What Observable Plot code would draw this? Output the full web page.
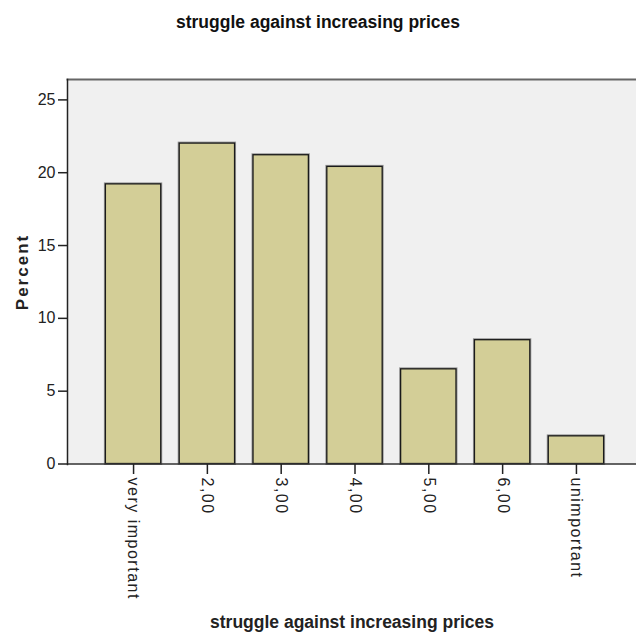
<!DOCTYPE html>
<html>
<head>
<meta charset="utf-8">
<script src="https://cdn.jsdelivr.net/npm/d3@7"></script>
<script src="https://cdn.jsdelivr.net/npm/@observablehq/plot@0.6"></script>
<style>
  html, body { margin: 0; padding: 0; background: #fff; overflow: hidden; }
  #wrap { position: relative; width: 636px; height: 637px; }
  #title { position: absolute; left: 0; top: 12px; width: 636px; text-align: center;
           font: bold 17.5px "Liberation Sans", Arial, sans-serif; line-height: 20px; color: #111; }
  #chart { position: absolute; left: 0; top: 0; }
</style>
</head>
<body>
<div id="wrap">
  <div id="chart"></div>
  <div id="title">struggle against increasing prices</div>
</div>
<script>
const categories = ["very important", "2,00", "3,00", "4,00", "5,00", "6,00", "unimportant"];
const percents = [19.2, 22.0, 21.2, 20.4, 6.5, 8.5, 1.9];
const yTicks = [0, 5, 10, 15, 20, 25];
const xTitle = "struggle against increasing prices";
const yTitle = "Percent";

const data = categories.map((c, i) => ({category: c, percent: percents[i]}));

const chart = Plot.plot({
  width: 636,
  height: 637,
  marginTop: 79,
  marginLeft: 67,
  marginRight: 0,
  marginBottom: 173,
  style: {fontFamily: "'Liberation Sans', Arial, sans-serif", fontSize: "16px", color: "#222", background: "transparent", overflow: "hidden"},
  x: {domain: categories, range: [67, 642], paddingInner: 0.25, paddingOuter: 0.52, round: false},
  y: {domain: [0, 26.4], range: [463.5, 79]},
  marks: [
    Plot.frame({fill: "#f0f0f0", stroke: null}),
    Plot.frame({anchor: "top", stroke: "#666", strokeWidth: 2}),
    Plot.barY(data, {x: "category", y: "percent", fill: "none", stroke: "#999", strokeWidth: 3}),
    Plot.barY(data, {x: "category", y: "percent", fill: "#d3ce97", stroke: "#1a1a1a", strokeWidth: 1.3}),
    Plot.ruleY([0], {stroke: "#333", strokeWidth: 1.5}),
    Plot.frame({anchor: "left", stroke: "#222", strokeWidth: 1.5}),
    Plot.axisY({ticks: yTicks, tickSize: 9, tickPadding: 3, strokeWidth: 1.5, label: yTitle,
      labelArrow: "none", labelAnchor: "center", labelOffset: 52, fontSize: 16}),
    Plot.axisX({tickSize: 10, tickPadding: 3, tickRotate: 90, strokeWidth: 1.5, label: xTitle,
      labelArrow: "none", labelAnchor: "center", labelOffset: 163, fontSize: 16})
  ]
});
document.getElementById("chart").appendChild(chart);

// styling tweaks for the stretched SPSS-like text
const svg = d3.select(chart);
svg.selectAll('[aria-label="x-axis tick label"] text').style("letter-spacing", "1.5px");
svg.selectAll('[aria-label="y-axis label"] text, [aria-label="y-axis label"]')
  .style("font-weight", "bold").style("font-size", "17px").style("letter-spacing", "2px");
svg.selectAll('[aria-label="x-axis label"] text, [aria-label="x-axis label"]')
  .style("font-weight", "bold").style("font-size", "17.5px");
</script>
</body>
</html>
